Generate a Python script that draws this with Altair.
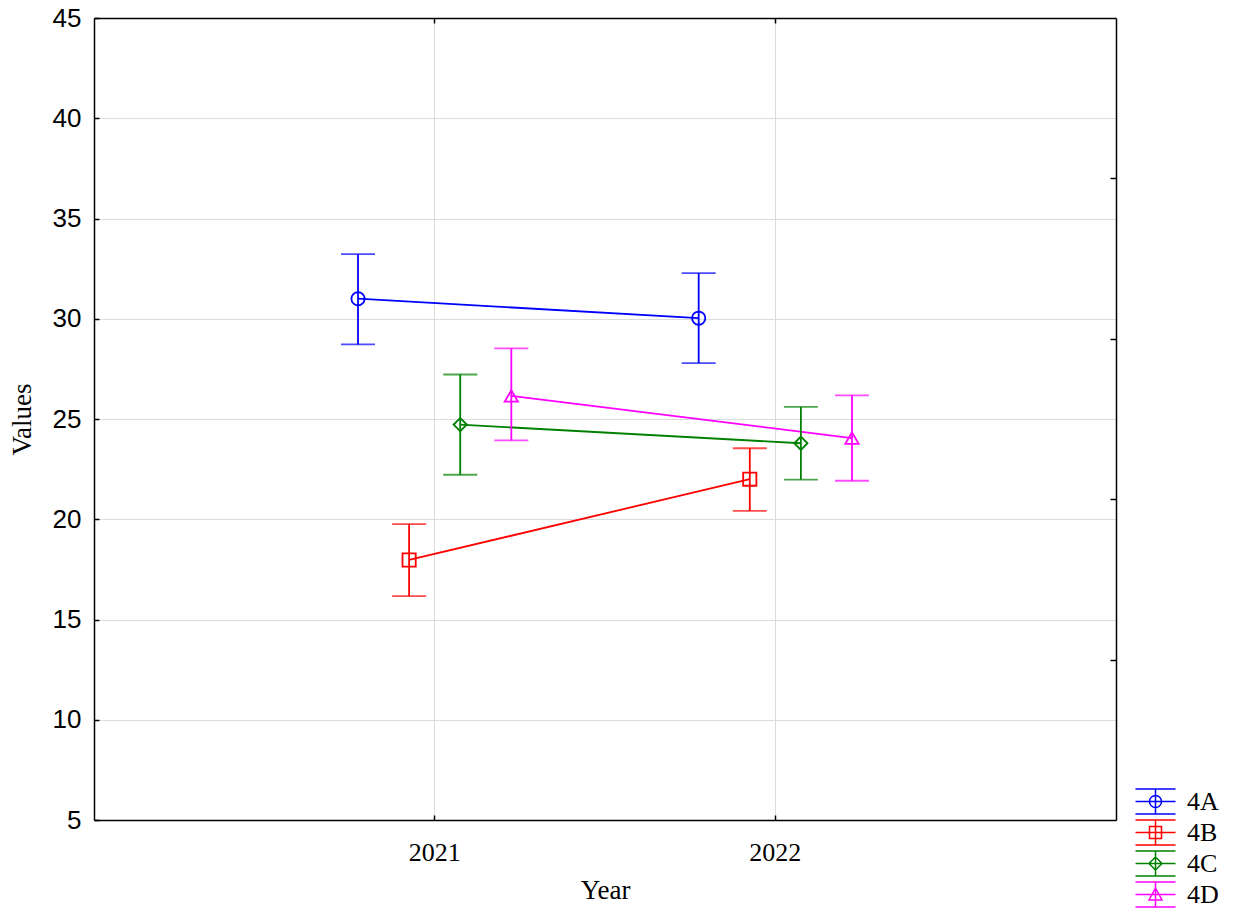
import altair as alt
import pandas as pd

years = ["2021", "2022"]
groups = ["4A", "4B", "4C", "4D"]
means = {"4A": [31.0, 30.03], "4B": [17.97, 22.0], "4C": [24.72, 23.79], "4D": [26.15, 24.05]}
uppers = {"4A": [33.22, 32.28], "4B": [19.76, 23.54], "4C": [27.22, 25.6], "4D": [28.52, 26.18]}
lowers = {"4A": [28.72, 27.79], "4B": [16.17, 20.42], "4C": [22.22, 21.98], "4D": [23.93, 21.92]}
colors = ["#0000ff", "#ff0000", "#008000", "#ff00ff"]
marker_shapes = ["circle", "square", "diamond", "triangle-up"]
y_ticks = [5, 10, 15, 20, 25, 30, 35, 40, 45]
right_ticks = [13, 21, 29, 37]

# legend glyphs: error-bar symbol with marker
_bars = "M-1.38,-0.862L1.38,-0.862M-1.38,0L1.38,0M-1.38,0.862L1.38,0.862M0,-0.862L0,0.862"
legend_paths = [
    _bars + "M0.414,0A0.414,0.414 0 1,1 -0.414,0A0.414,0.414 0 1,1 0.414,0",
    _bars + "M-0.414,-0.414L0.414,-0.414L0.414,0.414L-0.414,0.414Z",
    _bars + "M0,-0.448L0.448,0L0,0.448L-0.448,0Z",
    _bars + "M0,-0.448L0.448,0.38L-0.448,0.38Z",
]
legend_fill = ["transparent", "transparent", "transparent", "transparent"]

rows = []
for g in groups:
    for i, yr in enumerate(years):
        rows.append({"Group": g, "Year": yr, "Mean": means[g][i],
                     "Upper": uppers[g][i], "Lower": lowers[g][i]})
df = pd.DataFrame(rows)

SERIF = "Liberation Serif"
SANS = "Liberation Sans"

x_scale = alt.Scale(type="band", domain=years, paddingInner=0.4, paddingOuter=0.7)
y_scale = alt.Scale(domain=[5, 45], nice=False, zero=False)
xo_scale = alt.Scale(type="point", domain=groups, padding=0.5)
color_scale = alt.Scale(domain=groups, range=colors)

legend_def = alt.Legend(
    orient="none", legendX=1046, legendY=768, title=None, symbolSize=841,
    symbolStrokeWidth=1.5, symbolOpacity=1, symbolFillColor="transparent",
    labelFont=SERIF, labelFontSize=26, labelColor="black", labelOffset=16, rowPadding=0)

xo = alt.XOffset("Group:N", scale=xo_scale)
col = alt.Color("Group:N", scale=color_scale, legend=None)

base = alt.Chart(df)

bottom_axis = alt.Axis(
    orient="bottom", title="Year", labelFont=SERIF, labelFontSize=26, labelColor="black",
    titleFont=SERIF, titleFontSize=27, titleFontWeight="normal", titleColor="black",
    grid=True, gridColor="#dcdcdc", gridWidth=1, domainColor="black", domainWidth=1.5,
    tickColor="black", tickWidth=1.5, tickSize={"expr": "-5"}, labelPadding=24,
    titlePadding=12, bandPosition=0.5, labelAngle=0)
left_axis = alt.Axis(
    orient="left", title="Values", values=y_ticks, labelFont=SANS, labelFontSize=26,
    labelColor="black", titleFont=SERIF, titleFontSize=27, titleFontWeight="normal",
    titleColor="black", grid=True, gridColor="#dcdcdc", gridWidth=1, domainColor="black",
    domainWidth=1.5, tickColor="black", tickWidth=1.5, tickSize={"expr": "-5"},
    labelPadding=18, titlePadding=16)
top_axis = alt.Axis(
    orient="top", title=None, labels=False, grid=False, domainColor="black", domainWidth=1.5,
    tickColor="black", tickWidth=1.5, tickSize={"expr": "-5"}, bandPosition=0.5)
right_axis = alt.Axis(
    orient="right", title=None, labels=False, grid=False, values=right_ticks,
    domainColor="black", domainWidth=1.5, tickColor="black", tickWidth=1.5,
    tickSize={"expr": "-6"})

legend_layer = base.mark_point(opacity=0, filled=False).encode(
    x=alt.X("Year:N", scale=x_scale, axis=None),
    xOffset=xo,
    y=alt.Y("Mean:Q", scale=y_scale, axis=None),
    stroke=alt.Stroke("Group:N", scale=alt.Scale(domain=groups, range=colors),
                      legend=legend_def),
    fill=alt.Fill("Group:N", scale=alt.Scale(domain=groups, range=legend_fill),
                  legend=legend_def),
    shape=alt.Shape("Group:N", scale=alt.Scale(domain=groups, range=legend_paths),
                    legend=legend_def),
)

lines = base.mark_line(strokeWidth=1.8).encode(
    x=alt.X("Year:N", scale=x_scale, axis=bottom_axis),
    xOffset=xo,
    y=alt.Y("Mean:Q", scale=y_scale, axis=left_axis),
    color=col,
    detail="Group:N",
)

rules = base.mark_rule(strokeWidth=1.8).encode(
    x=alt.X("Year:N", scale=x_scale, axis=None),
    xOffset=xo,
    y=alt.Y("Lower:Q", scale=y_scale, axis=right_axis),
    y2="Upper:Q",
    color=col,
)

caps = base.transform_fold(["Upper", "Lower"], as_=["which", "val"]).mark_tick(
    size=34, thickness=1.8).encode(
    x=alt.X("Year:N", scale=x_scale, axis=top_axis),
    xOffset=xo,
    y=alt.Y("val:Q", scale=y_scale, axis=None),
    color=col,
)

point_layers = []
for g, shp in zip(groups, marker_shapes):
    point_layers.append(
        base.transform_filter(alt.datum.Group == g).mark_point(
            shape=shp, filled=False, size=175, strokeWidth=1.8, opacity=1).encode(
            x=alt.X("Year:N", scale=x_scale, axis=None),
            xOffset=xo,
            y=alt.Y("Mean:Q", scale=y_scale, axis=None),
            color=col,
        )
    )

chart = alt.layer(legend_layer, lines, rules, caps, *point_layers).resolve_axis(
    x="independent", y="independent"
).properties(
    width=1022, height=802,
    autosize=alt.AutoSizeParams(type="none"),
    padding={"left": 86, "top": 10, "right": 110, "bottom": 88},
    background="white",
).configure_view(stroke=None)

chart.save("out.html", embed_options={"renderer": "svg", "actions": False})
